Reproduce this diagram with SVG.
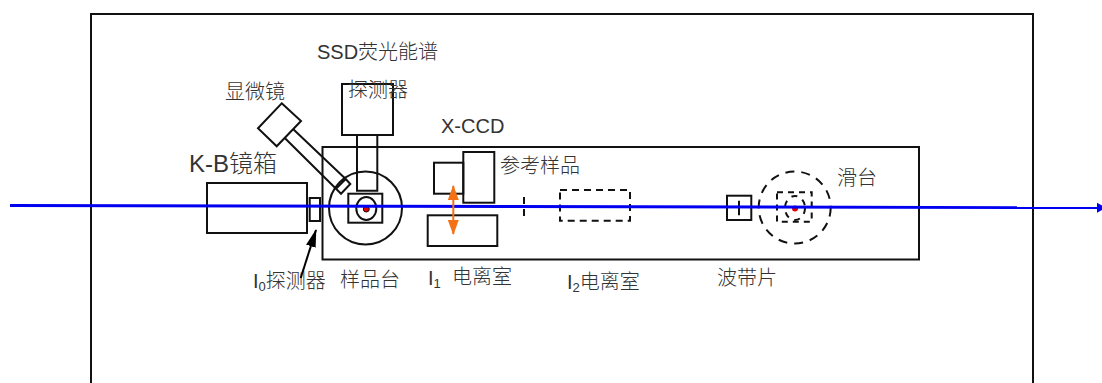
<svg xmlns="http://www.w3.org/2000/svg" width="1102" height="383" viewBox="0 0 1102 383">
<style>
.s{fill:none;stroke:#111;stroke-width:2}
.d{fill:none;stroke:#111;stroke-width:2;stroke-dasharray:7 5}
.t{font-family:"Liberation Sans","Noto Sans CJK SC",sans-serif;font-size:20px;fill:#333;font-weight:300}
.sub{font-size:13px}
</style>
<defs>
<marker id="or" markerUnits="userSpaceOnUse" markerWidth="15" markerHeight="11" refX="14" refY="5.5" orient="auto-start-reverse"><path d="M0 0L15 5.5L0 11Z" fill="#f47216"/></marker>
<marker id="bk" markerUnits="userSpaceOnUse" markerWidth="18" markerHeight="10" refX="17" refY="5" orient="auto"><path d="M0 0L18 5L0 10Z" fill="#000"/></marker>
</defs>
<rect width="1102" height="383" fill="#fff"/>
<path id="frame" class="s" d="M91 390V14H1033V390"/>
<g id="table"><rect class="s" x="322.5" y="147" width="596.5" height="112.5"/></g>
<g id="kb-box"><rect class="s" x="207" y="183" width="100" height="50"/><text class="t" x="189" y="172" style="font-size:24px">K-B镜箱</text></g>
<g id="i0"><rect class="s" x="309.7" y="198" width="10.3" height="23"/><text class="t" x="253" y="288">I<tspan class="sub" dy="3">0</tspan><tspan dy="-3">探测器</tspan></text></g>
<g id="sample-stage">
<circle class="s" cx="365.5" cy="208" r="36.5"/>
<rect class="s" x="348.3" y="193.7" width="34" height="29"/>
<ellipse class="s" cx="366.3" cy="208.5" rx="10" ry="11.5"/>
<circle cx="366.3" cy="209" r="3" fill="#e00000" stroke="#111"/>
<text class="t" x="340" y="287">样品台</text>
</g>
<g id="ssd">
<rect class="s" x="342" y="84" width="51" height="51"/>
<path class="s" d="M357 135V190.7H377.3V135"/>
<text class="t" x="317" y="59">SSD荧光能谱</text>
<text class="t" x="348" y="97">探测器</text>
</g>
<g id="microscope">
<path class="s" d="M281.7 103.3L301 121L276.7 146.3L258 128.3Z"/>
<path class="s" d="M293.3 129.3L345.7 179M285 138.3L336 188.7"/>
<path class="s" d="M345.7 179L350.3 184L341 193.7L336 188.7Z"/>
<text class="t" x="225" y="99">显微镜</text>
</g>
<g id="ccd">
<rect class="s" x="463.3" y="152" width="31" height="50.7"/>
<rect class="s" x="434" y="162.7" width="29.3" height="31"/>
<text class="t" x="441" y="133">X-CCD</text>
</g>
<g id="i1">
<rect class="s" x="427.7" y="215.3" width="69.6" height="30.7"/>
<text class="t" x="428" y="285">I<tspan class="sub" dy="3">1</tspan></text>
<text class="t" x="452" y="284">电离室</text>
</g>
<g id="reference"><path class="d" d="M524 197V218"/><text class="t" x="500" y="173">参考样品</text></g>
<g id="i2"><rect class="d" x="560" y="190" width="70" height="30.7"/><text class="t" x="567" y="289">I<tspan class="sub" dy="3">2</tspan><tspan dy="-3">电离室</tspan></text></g>
<g id="zone-plate"><rect class="s" x="727" y="195.7" width="24.3" height="24.3"/><path class="s" d="M739 200.7V215.3"/><text class="t" x="717" y="285">波带片</text></g>
<g id="slide">
<circle class="d" cx="794.7" cy="207.5" r="36" style="stroke-dasharray:9 7"/>
<rect class="d" x="777" y="192.3" width="34.7" height="29.4" style="stroke-dasharray:6 5"/>
<ellipse class="d" cx="795" cy="208" rx="10" ry="12" style="stroke-dasharray:6 6"/>
<circle cx="795" cy="208.5" r="3" fill="#e00000"/>
<text class="t" x="837" y="185">滑台</text>
</g>
<g id="connectors">
<path d="M10 205.5L1098 207.7" fill="none" stroke="#0000f0" stroke-width="2.8"/>
<path d="M1097 202.7L1106 207.7L1097 212.7Z" fill="#0000f0"/>
<path d="M453.3 186V234" fill="none" stroke="#f47216" stroke-width="2" marker-start="url(#or)" marker-end="url(#or)"/>
<path d="M300.7 278L316 230" fill="none" stroke="#000" stroke-width="2" marker-end="url(#bk)"/>
</g>
</svg>
